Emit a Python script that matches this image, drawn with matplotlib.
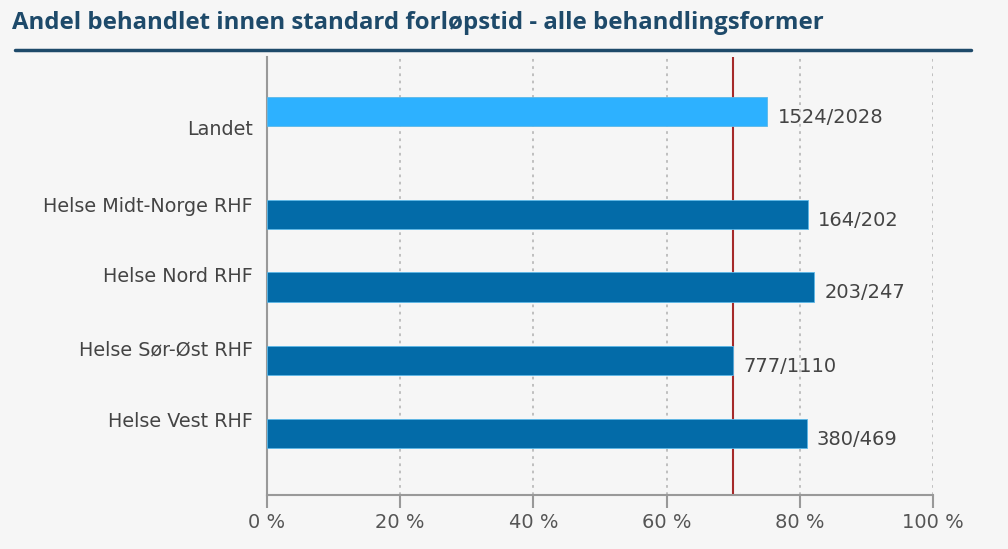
import matplotlib.pyplot as plt
from matplotlib.lines import Line2D
import numpy as np

# Data
categories = ['Landet', 'Helse Midt-Norge RHF', 'Helse Nord RHF',
              'Helse Sør-Øst RHF', 'Helse Vest RHF']
treated = [1524, 164, 203, 777, 380]
totals = [2028, 202, 247, 1110, 469]
target = 70
bar_pos = [0, 1.41, 2.40, 3.41, 4.41]
label_pos = [0.22, 1.27, 2.23, 3.23, 4.22]

pct = [100 * t / n for t, n in zip(treated, totals)]
colors = ['#2DB1FF'] + ['#036BA8'] * 4

bg = '#F6F6F6'
fig = plt.figure(figsize=(10.08, 5.49), dpi=100, facecolor=bg)
ax = fig.add_axes([267 / 1008, 1 - 495 / 549, (933 - 267) / 1008, (495 - 57) / 549])
ax.set_facecolor(bg)

ax.barh(bar_pos, pct, height=0.40, color=colors, edgecolor='#5CB8E8',
        linewidth=0.6, zorder=3)
for y, p, t, n in zip(bar_pos, pct, treated, totals):
    ax.text(p + 1.5, y + 0.08, f'{t}/{n}', va='center', ha='left',
            fontsize=14, color='#444444', zorder=4)

# target line sits behind the bars
ax.axvline(target, color='#A52A2A', linewidth=1.5, zorder=2)

ax.set_xlim(0, 100)
ax.set_ylim(5.25, -0.75)
ax.set_xticks([0, 20, 40, 60, 80, 100])
ax.set_xticklabels([f'{v} %' for v in [0, 20, 40, 60, 80, 100]],
                   fontsize=14, color='#555555')
ax.set_yticks(label_pos)
ax.set_yticklabels(categories, fontsize=13.8, color='#444444')
ax.tick_params(axis='y', length=0, pad=10)
ax.tick_params(axis='x', length=9, width=1.5, color='#999999', pad=4)

ax.grid(axis='x', color='#BBBBBB', linestyle=(0, (1.5, 2.5)), linewidth=1.3, zorder=0)
for s in ['top', 'right']:
    ax.spines[s].set_visible(False)
ax.spines['left'].set_color('#999999')
ax.spines['left'].set_linewidth(1.5)
ax.spines['bottom'].set_color('#999999')
ax.spines['bottom'].set_linewidth(1.5)

# Title and underline
fig.text(12 / 1008, 1 - 23 / 549, 'Andel behandlet innen standard forløpstid - alle behandlingsformer',
         fontsize=17.3, fontweight='bold', color='#1E4A6A', family='Open Sans',
         va='center', ha='left')
fig.add_artist(Line2D([15 / 1008, 971 / 1008], [1 - 50 / 549, 1 - 50 / 549],
                      color='#1E4A6A', linewidth=2.5, solid_capstyle='round'))

fig.savefig('out.png', dpi=100, facecolor=bg)
